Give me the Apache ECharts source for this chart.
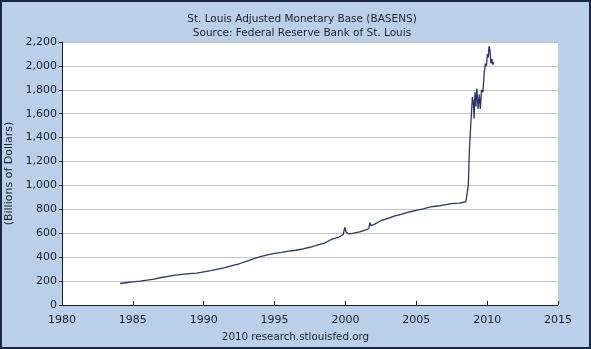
<!DOCTYPE html>
<html><head><meta charset="utf-8">
<script src="https://cdn.jsdelivr.net/npm/echarts@6/dist/echarts.min.js"></script>
<style>html,body{margin:0;padding:0;}#c{width:591px;height:349px;}</style>
</head><body><div id="c"></div>
<script>
const titleLines = ["St. Louis Adjusted Monetary Base (BASENS)", "Source: Federal Reserve Bank of St. Louis"];
const yAxisTitle = "(Billions of Dollars)";
const footer = "2010 research.stlouisfed.org";
const xTicks = [1980, 1985, 1990, 1995, 2000, 2005, 2010, 2015];
const yTicks = [0, 200, 400, 600, 800, 1000, 1200, 1400, 1600, 1800, 2000, 2200];
const years = [1984.1,1984.5,1985.0,1985.5,1986.0,1986.5,1987.0,1987.5,1988.0,1988.5,1989.0,1989.5,
  1990.0,1990.5,1991.0,1991.5,1992.0,1992.5,1993.0,1993.5,1994.0,1994.5,1995.0,1995.5,1996.0,1996.5,
  1997.0,1997.5,1998.0,1998.5,1999.0,1999.5,1999.85,1999.95,2000.05,2000.2,2000.5,2001.0,2001.5,2001.65,
  2001.72,2001.8,2002.0,2002.5,2003.0,2003.5,2004.0,2004.5,2005.0,2005.5,2006.0,2006.5,2007.0,2007.5,
  2008.0,2008.5,2008.6,2008.67,2008.75,2008.84,2008.9,2008.96,2009.02,2009.08,2009.14,2009.2,2009.28,
  2009.36,2009.45,2009.52,2009.6,2009.7,2009.8,2009.88,2009.95,2010.02,2010.08,2010.13,2010.2,2010.27,
  2010.33,2010.4,2010.46];
const values = [180,186,193,200,208,217,230,240,250,256,262,267,
  278,288,300,312,330,345,365,385,405,420,432,440,450,458,
  470,483,500,515,548,565,590,650,610,595,600,612,630,640,
  690,665,672,705,725,745,760,778,792,805,820,828,838,848,
  852,862,870,1000,1300,1500,1500,1740,1700,1560,1780,1660,1810,
  1640,1760,1640,1800,1780,1950,2020,2000,2100,2070,2165,2130,2020,
  2060,2010,2030];

const chart = echarts.init(document.getElementById('c'), null, {renderer: 'canvas'});
const font = 'DejaVu Sans';
chart.setOption({
  backgroundColor: '#b9d0e8',
  animation: false,
  title: [{
    text: titleLines.join('\n'), left: 297, top: 7, textAlign: 'center',
    textStyle: {fontFamily: font, fontSize: 10.5, fontWeight: 'normal', color: '#1e1e2a', lineHeight: 14}
  }],
  grid: {left: 62, right: 33, top: 42, bottom: 44, show: true, backgroundColor: '#ffffff', borderWidth: 0,
    outerBoundsMode: 'none', containLabel: false},
  xAxis: {
    type: 'value', min: xTicks[0], max: xTicks[xTicks.length-1], interval: 5,
    axisLine: {show: true, lineStyle: {color: '#1a1a2a', width: 1}},
    axisTick: {show: true, inside: true, length: 4, lineStyle: {color: '#1a1a2a'}},
    splitLine: {show: false},
    axisLabel: {fontFamily: font, fontSize: 11, color: '#1e1e2a', margin: 10, formatter: v => String(v)}
  },
  yAxis: {
    type: 'value', min: yTicks[0], max: yTicks[yTicks.length-1], interval: 200,
    name: yAxisTitle, nameLocation: 'middle', nameGap: 41, nameRotate: 90,
    nameTextStyle: {fontFamily: font, fontSize: 11, color: '#1e1e2a'},
    axisLine: {show: true, lineStyle: {color: '#1a1a2a', width: 1}},
    axisTick: {show: true, inside: false, length: 3, lineStyle: {color: '#1a1a2a'}},
    splitLine: {show: true, lineStyle: {color: '#c4c4c4', width: 1}},
    axisLabel: {fontFamily: font, fontSize: 11, color: '#1e1e2a', margin: 5,
      formatter: v => v.toLocaleString('en-US')}
  },
  series: [{
    type: 'line', data: years.map((y, i) => [y, values[i]]), showSymbol: false,
    lineStyle: {color: '#2a3570', width: 1.3}
  }],
  graphic: [
    {type: 'text', left: 'center', top: 332, style: {text: footer, font: '10.3px "DejaVu Sans"', fill: '#1e1e2a'}},
    {type: 'rect', shape: {x: 1, y: 1, width: 589, height: 347}, style: {fill: 'none', stroke: '#1b2740', lineWidth: 2}, z: 100}
  ]
});
</script></body></html>
